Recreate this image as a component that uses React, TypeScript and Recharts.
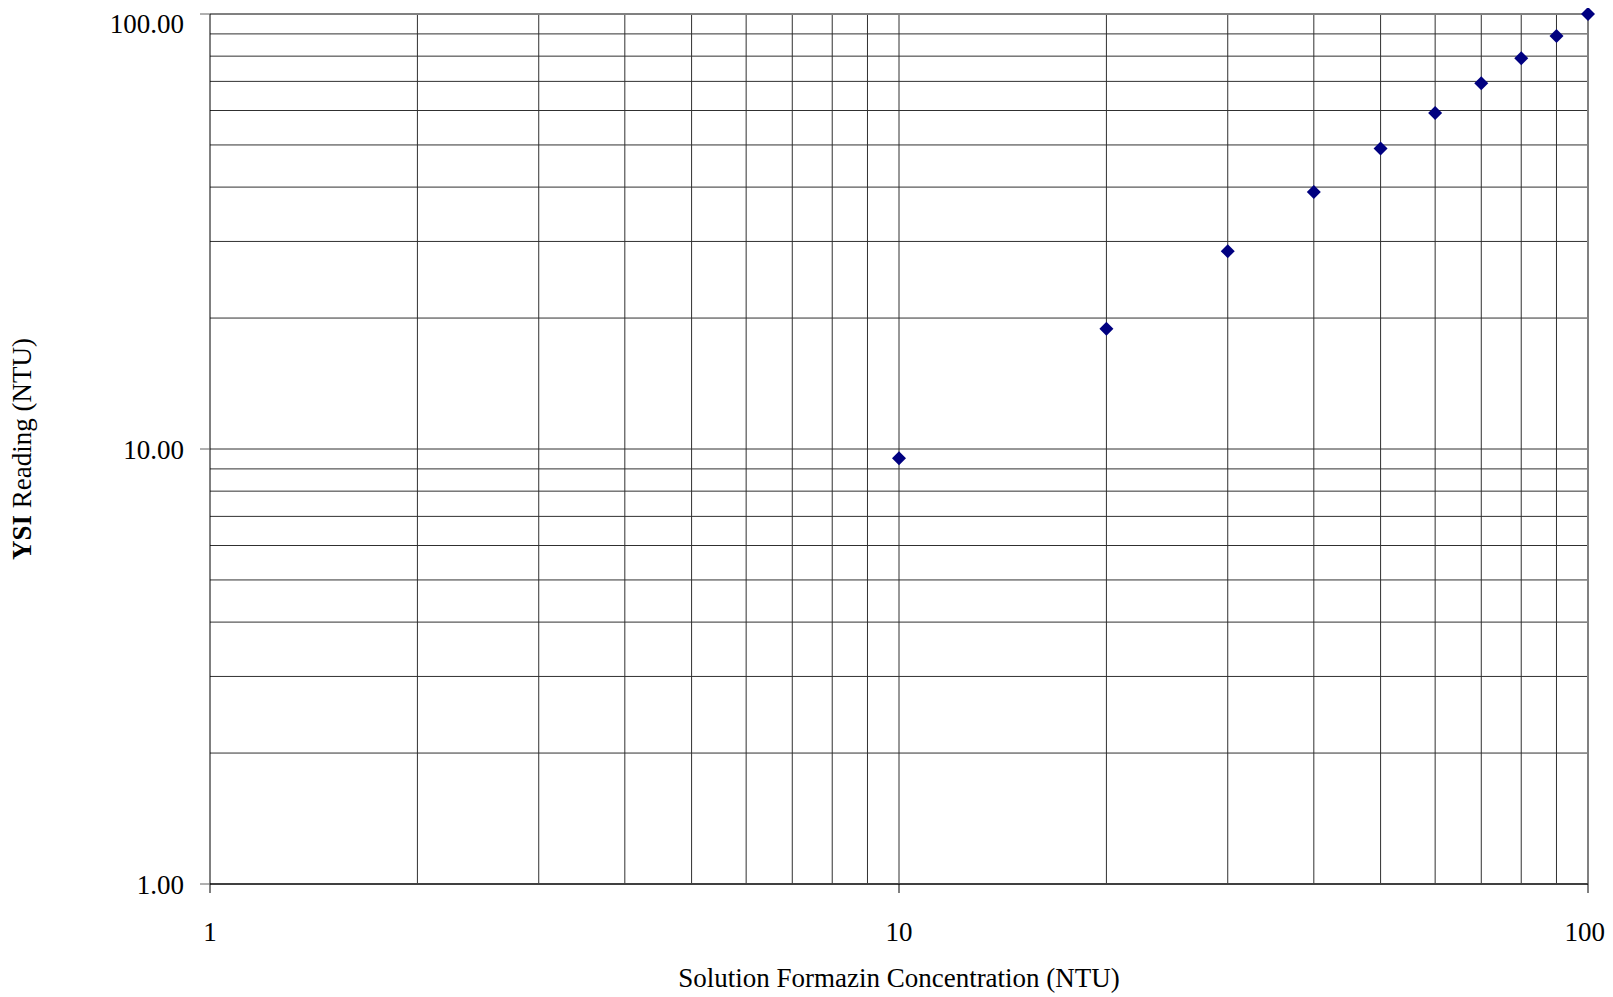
import React from 'react';
import { ScatterChart, Scatter, XAxis, YAxis, ReferenceLine } from 'recharts';

const concentrations = [10, 20, 30, 40, 50, 60, 70, 80, 90, 100];
const readings = [9.52, 18.9, 28.5, 39.0, 49.1, 59.2, 69.3, 79.1, 89.0, 100];
const xTicks = [1, 10, 100];
const yTicks = [1, 10, 100];
const xGrid = [2, 3, 4, 5, 6, 7, 8, 9, 10, 20, 30, 40, 50, 60, 70, 80, 90];
const yGrid = [2, 3, 4, 5, 6, 7, 8, 9, 10, 20, 30, 40, 50, 60, 70, 80, 90];
const xTitle = 'Solution Formazin Concentration (NTU)';
const yTitleBold = 'YSI';
const yTitleRest = ' Reading (NTU)';

const data = concentrations.map((x, i) => ({ x, y: readings[i] }));

const FONT = '"Liberation Serif", "Times New Roman", serif';

const Diamond = (props: any) => {
  const { cx, cy } = props;
  const r = 7;
  return (
    <polygon
      points={`${cx},${cy - r} ${cx + r},${cy} ${cx},${cy + r} ${cx - r},${cy}`}
      fill="#000080"
    />
  );
};

const YTitle = (props: any) => {
  const vb = props.viewBox || { x: 0, y: 6, width: 202, height: 870 };
  const cy = vb.y + vb.height / 2;
  const x = 23;
  return (
    <text
      x={x}
      y={cy}
      transform={`rotate(-90, ${x}, ${cy})`}
      textAnchor="middle"
      fontFamily={FONT}
      fontSize={27}
      fill="#000"
    >
      <tspan fontWeight="bold">{yTitleBold}</tspan>
      <tspan>{yTitleRest}</tspan>
    </text>
  );
};

const XTitle = (props: any) => {
  const vb = props.viewBox || { x: 202, y: 876, width: 1378, height: 106 };
  const cx = vb.x + vb.width / 2;
  return (
    <text x={cx} y={979} textAnchor="middle" fontFamily={FONT} fontSize={27} fill="#000">
      {xTitle}
    </text>
  );
};

export default function App() {
  return (
    <ScatterChart
      width={1597}
      height={989}
      margin={{ top: 6, right: 17, left: 0, bottom: 0 }}
    >
      <XAxis
        dataKey="x"
        type="number"
        scale="log"
        domain={[1, 100]}
        ticks={xTicks}
        height={113}
        tickSize={9}
        tickMargin={29}
        axisLine={{ stroke: '#404040', strokeWidth: 2 }}
        tickLine={{ stroke: '#000', strokeWidth: 1 }}
        tick={{ fill: '#000', fontSize: 27, fontFamily: FONT }}
        tickFormatter={(v: number) => String(v)}
        label={<XTitle />}
      />
      <YAxis
        dataKey="y"
        type="number"
        scale="log"
        domain={[1, 100]}
        ticks={yTicks}
        width={202}
        tickSize={10}
        tickMargin={16}
        axisLine={{ stroke: '#000', strokeWidth: 1 }}
        tickLine={{ stroke: '#606060', strokeWidth: 1 }}
        tick={{ fill: '#000', fontSize: 27, fontFamily: FONT }}
        tickFormatter={(v: number) => v.toFixed(2)}
        label={<YTitle />}
      />
      {xGrid.map((v) => (
        <ReferenceLine key={`xg${v}`} x={v} stroke="#303030" strokeWidth={1} />
      ))}
      {yGrid.map((v) => (
        <ReferenceLine key={`yg${v}`} y={v} stroke="#303030" strokeWidth={1} />
      ))}
      <ReferenceLine y={100} stroke="#808080" strokeWidth={2} />
      <ReferenceLine x={100} stroke="#808080" strokeWidth={2} />
      <Scatter data={data} shape={<Diamond />} isAnimationActive={false} />
    </ScatterChart>
  );
}
